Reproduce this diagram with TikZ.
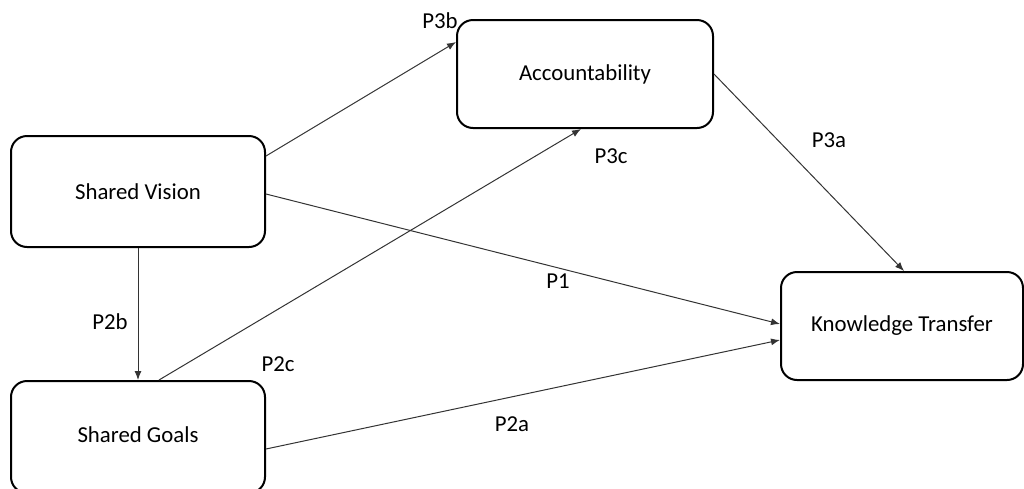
\documentclass[tikz,border=0pt]{standalone}
\usepackage{fontspec}
\setmainfont{Carlito}
\usetikzlibrary{arrows.meta,calc}
\begin{document}
\begin{tikzpicture}[x=0.5pt,y=-0.5pt,
  box/.style={draw=black,line width=1pt,rounded corners=8pt,inner sep=0pt,font=\fontsize{11.4pt}{13pt}\selectfont},
  conn/.style={draw=black!80,line width=0.5pt,-{Latex[length=4.5pt,width=3.5pt]}},
  lbl/.style={inner sep=0pt,font=\fontsize{11.4pt}{13pt}\selectfont}]
\useasboundingbox (0,0) rectangle (1024,488);
\node[box,minimum width=127pt,minimum height=55.5pt] (sv) at (138,191.5) {Shared Vision};
\node[box,minimum width=127pt,minimum height=56pt] (sg) at (138,437) {};
\node[font=\fontsize{11.4pt}{13pt}\selectfont,inner sep=0pt] (sgt) at (138,435) {Shared Goals};
\node[box,minimum width=128pt,minimum height=54pt] (acc) at (585,74) {Accountability};
\node[box,minimum width=121pt,minimum height=54pt] (kt) at (902,326) {Knowledge Transfer};
\draw[conn] ($(sv.north east)+(0,21)$) -- ($(acc.north west)+(0,23)$);
\draw[conn] ($(sv.north east)+(0,59)$) -- ($(kt.north west)+(0,53)$);
\draw[conn] (sv.south) -- (sg.north);
\draw[conn] ($(sg.north west)+(149,0)$) -- ($(acc.south west)+(125,0)$);
\draw[conn] ($(sg.north east)+(0,69)$) -- ($(kt.north west)+(0,69)$);
\draw[conn] ($(acc.north east)+(0,55)$) -- ($(kt.north west)+(124,0)$);
\node[lbl] (l3b) at (440,21) {P3b};
\node[lbl] (l3c) at (611,156) {P3c};
\node[lbl] (l3a) at (829,140) {P3a};
\node[lbl] (l1) at (558,281) {P1};
\node[lbl] (l2b) at (110,322) {P2b};
\node[lbl] (l2c) at (278,364) {P2c};
\node[lbl] (l2a) at (512,424) {P2a};
\end{tikzpicture}
\end{document}
